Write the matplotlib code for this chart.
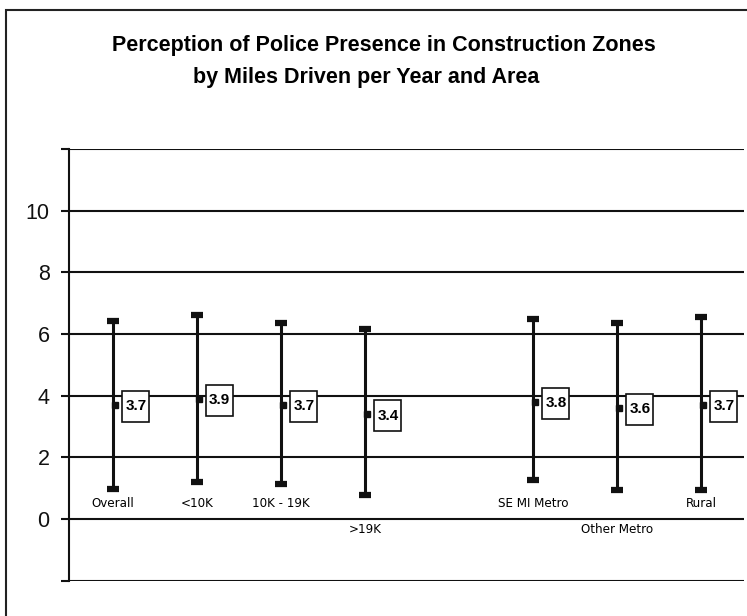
import matplotlib
matplotlib.use("Agg")
import matplotlib.pyplot as plt
from matplotlib.patches import Rectangle
from matplotlib import font_manager

categories = ["Overall", "<10K", "10K - 19K", ">19K", "SE MI Metro", "Other Metro", "Rural"]
x_pos = [1, 2, 3, 4, 6, 7, 8]
means = [3.7, 3.9, 3.7, 3.4, 3.8, 3.6, 3.7]
highs = [6.42, 6.63, 6.34, 6.15, 6.47, 6.36, 6.56]
lows = [0.98, 1.19, 1.13, 0.76, 1.25, 0.93, 0.93]
label_rows = [0, 0, 0, 1, 0, 1, 0]  # 0 = above zero line, 1 = below
y_ticks = [-2, 0, 2, 4, 6, 8, 10, 12]
y_tick_labels = ["", "0", "2", "4", "6", "8", "10", ""]

# look for a condensed face for the small labels
cond = None
for f in font_manager.fontManager.ttflist:
    if f.name == "DejaVu Sans" and str(f.stretch) in ("condensed", "semi-condensed", "500", "412", "375") and "Bold" not in f.fname and "Oblique" not in f.fname:
        if "Condensed" in f.fname:
            cond = f.fname
            break
small_font = dict(fontproperties=font_manager.FontProperties(fname=cond, size=9.5)) if cond else dict(family="Liberation Sans", fontsize=10)

W, H = 747, 616
fig = plt.figure(figsize=(W / 100, H / 100), dpi=100)
ax = fig.add_axes([69 / W, 1 - 580.5 / H, 675 / W, (580.5 - 149) / H])
ax.set_xlim(0.476, 8.51)
ax.set_ylim(-2, 12)

for s in ["top", "right", "bottom"]:
    ax.spines[s].set_visible(False)
ax.spines["left"].set_linewidth(1.5)
ax.spines["left"].set_color("#111111")

ax.set_yticks(y_ticks)
ax.set_yticklabels(y_tick_labels, fontsize=15.5, family="Liberation Sans")
ax.tick_params(axis="y", length=6, width=1.5, pad=8, colors="#111111")
ax.set_xticks([])
for yv in y_ticks:
    ax.axhline(yv, color="#111111", lw=1.5, zorder=1)

# range lines
ax.vlines(x_pos, lows, highs, color="#111111", lw=2.2, zorder=3)
ax.plot(x_pos, highs, ls="none", marker="_", ms=9, mew=4.5, color="#111111", zorder=3)
ax.plot(x_pos, lows, ls="none", marker="_", ms=9, mew=4.5, color="#111111", zorder=3)
ax.plot([x + 0.025 for x in x_pos], means, ls="none", marker="s", ms=4, color="#111111", zorder=4)

# value boxes
bw, bh = 27 / 84, 31 / 30.75
for x, m in zip(x_pos, means):
    r = Rectangle((x + 0.11, m - bh / 2 - 0.05), bw, bh, facecolor="white",
                  edgecolor="#111111", lw=1.2, zorder=5)
    ax.add_patch(r)
    ax.text(x + 0.11 + bw / 2, m - 0.05, f"{m:.1f}", ha="center", va="center",
            fontsize=11, family="Liberation Sans", fontweight="bold", zorder=6)

# category labels
for x, c, row in zip(x_pos, categories, label_rows):
    yv = 0.5 if row == 0 else -0.33
    ax.text(x, yv, c, ha="center", va="center", zorder=6, **small_font)

# title
fig.text(383.5 / W, 1 - 45 / H, "Perception of Police Presence in Construction Zones",
         ha="center", va="center", fontsize=15.5, fontweight="bold", family="Liberation Sans")
fig.text(366.5 / W, 1 - 77 / H, "by Miles Driven per Year and Area",
         ha="center", va="center", fontsize=15.5, fontweight="bold", family="Liberation Sans")

# outer frame
fig.add_artist(Rectangle((6 / W, -0.1), 1.2, 1.1 - 10 / H, transform=fig.transFigure,
                         fill=False, edgecolor="#222222", lw=1.5, clip_on=False))

fig.savefig("out.png", dpi=100)
